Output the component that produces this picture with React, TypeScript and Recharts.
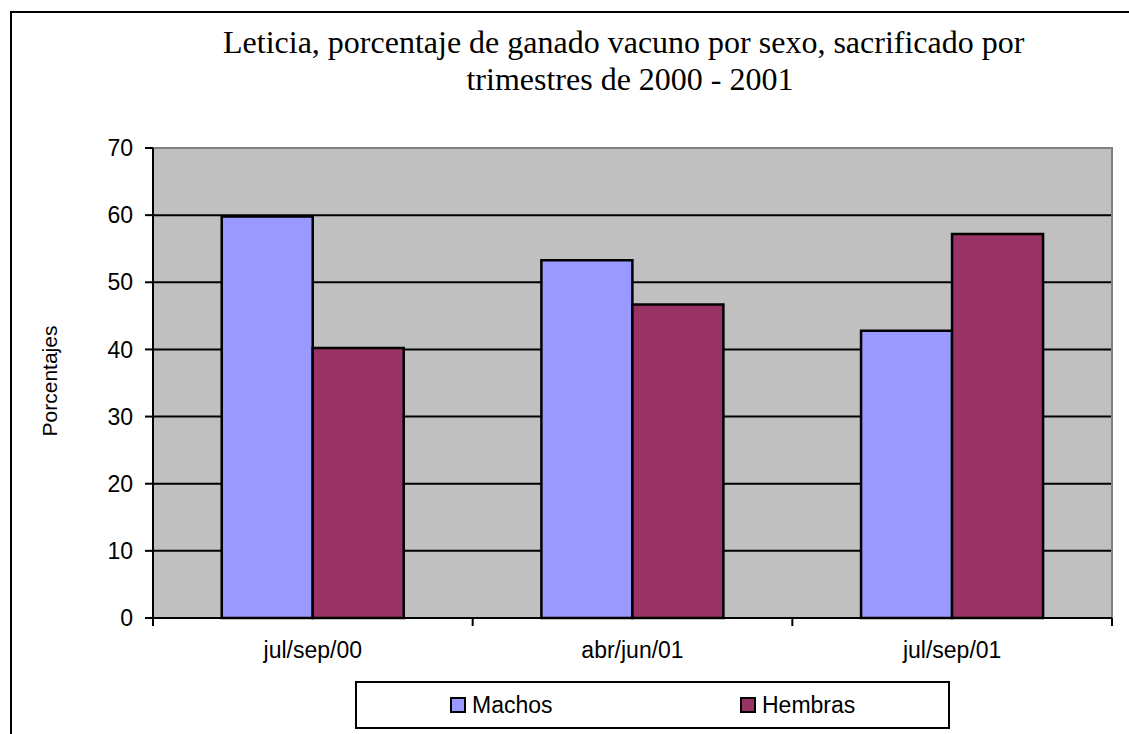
import React from 'react';
import { BarChart, Bar, XAxis, YAxis, CartesianGrid, ReferenceArea, Legend } from 'recharts';

const categories = ['jul/sep/00', 'abr/jun/01', 'jul/sep/01'];
const machos = [59.8, 53.3, 42.8];
const hembras = [40.2, 46.7, 57.2];
const yTicks = [0, 10, 20, 30, 40, 50, 60, 70];
const gridValues = [10, 20, 30, 40, 50, 60];
const seriesNames = ['Machos', 'Hembras'];
const seriesKeys = ['machos', 'hembras'];
const seriesColors = ['#9999FF', '#993366'];
const titleLines = ['Leticia, porcentaje de ganado vacuno por sexo, sacrificado por', 'trimestres de 2000 - 2001'];
const yLabel = 'Porcentajes';

const data = categories.map((c, i) => ({ cat: c, machos: machos[i], hembras: hembras[i] }));

const W = 1129;
const H = 734;
const MARGIN = { top: 148, right: 17, left: 93, bottom: 56 };
const Y_AXIS_W = 60;
const PLOT_W = W - MARGIN.left - MARGIN.right - Y_AXIS_W;
const SANS = '"Liberation Sans", Arial, sans-serif';
const SERIF = '"Liberation Serif", "Times New Roman", serif';

function XTick(props: any) {
  const { x, y, payload, index } = props;
  const half = payload && typeof payload.offset === 'number' && payload.offset > 0 ? payload.offset : PLOT_W / categories.length / 2;
  const last = index === categories.length - 1;
  return (
    <g>
      <line x1={x - half} x2={x - half} y1={y} y2={y + 8} stroke="#000" strokeWidth={2} />
      {last && <line x1={x + half} x2={x + half} y1={y} y2={y + 8} stroke="#000" strokeWidth={2} />}
      <text x={x} y={y + 40} textAnchor="middle" fontFamily={SANS} fontSize={23} fill="#000">
        {payload.value}
      </text>
    </g>
  );
}

function YLabel(props: any) {
  const vb = props.viewBox || { y: MARGIN.top, height: 470 };
  const cy = vb.y + vb.height / 2 - 2;
  const cx = 57;
  return (
    <text x={cx} y={cy} transform={`rotate(-90 ${cx} ${cy})`} textAnchor="middle" fontFamily={SANS} fontSize={21} fill="#000">
      {yLabel}
    </text>
  );
}

function LegendBox() {
  const lefts = [93, 383];
  return (
    <div style={{ width: 595, height: 48, boxSizing: 'border-box', border: '2px solid #000', background: '#fff', position: 'relative', fontFamily: SANS, fontSize: 23, color: '#000' }}>
      {seriesNames.map((n, i) => (
        <div key={n} style={{ position: 'absolute', left: lefts[i], top: 0, height: 44, display: 'flex', alignItems: 'center' }}>
          <span style={{ display: 'inline-block', width: 16, height: 16, boxSizing: 'border-box', border: '2px solid #000', background: seriesColors[i], marginRight: 6 }} />
          <span>{n}</span>
        </div>
      ))}
    </div>
  );
}

export default function App() {
  return (
    <div style={{ position: 'fixed', left: 0, top: 0, width: W, height: H, overflow: 'hidden', background: '#fff' }}>
      <div style={{ position: 'absolute', left: 10, top: 11, width: 1300, height: 900, border: '2px solid #000', boxSizing: 'border-box' }} />
      <div style={{ position: 'absolute', left: 0, top: 0 }}>
        <BarChart width={W} height={H} data={data} margin={MARGIN} barCategoryGap="21.5%" barGap={0}>
          <CartesianGrid horizontal={true} vertical={false} horizontalValues={gridValues} stroke="#000" strokeWidth={2} fill="#C0C0C0" />
          <ReferenceArea y1={0} y2={70} fill="none" stroke="#808080" strokeWidth={2} ifOverflow="visible" />
          <XAxis dataKey="cat" tickLine={false} tickSize={0} tickMargin={0} height={60} axisLine={{ stroke: '#000', strokeWidth: 2 }} tick={<XTick />} interval={0} />
          <YAxis width={Y_AXIS_W} domain={[0, 70]} ticks={yTicks} interval={0} tickSize={8} tickMargin={12} axisLine={{ stroke: '#000', strokeWidth: 2 }} tickLine={{ stroke: '#000', strokeWidth: 2 }} tick={{ fill: '#000', fontFamily: SANS, fontSize: 23 }} label={<YLabel />} />
          {seriesKeys.map((k, i) => (
            <Bar key={k} dataKey={k} name={seriesNames[i]} fill={seriesColors[i]} stroke="#000" strokeWidth={2.5} isAnimationActive={false} />
          ))}
          <Legend layout="horizontal" verticalAlign="middle" align="center" wrapperStyle={{ left: 355, top: 681, width: 595, height: 48 }} content={<LegendBox />} />
        </BarChart>
      </div>
      {titleLines.map((t, i) => (
        <div key={i} style={{ position: 'absolute', left: i === 0 ? 223 : 230, width: 800, top: 24 + i * 37, lineHeight: '37px', textAlign: 'center', fontFamily: SERIF, fontSize: 32, color: '#000', whiteSpace: 'nowrap' }}>
          {t}
        </div>
      ))}
    </div>
  );
}
